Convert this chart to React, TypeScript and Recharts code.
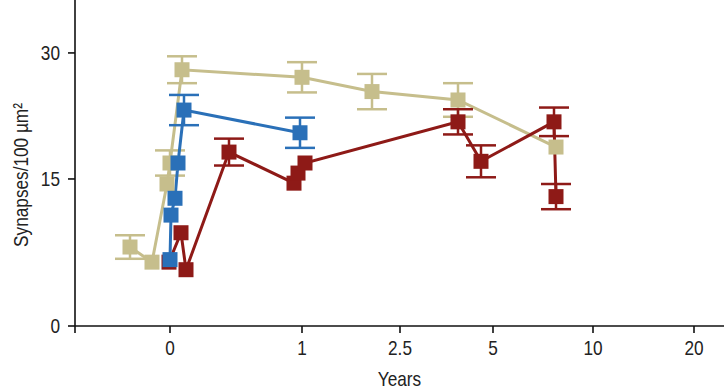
import React from 'react';
import { LineChart, Line, XAxis, YAxis, ErrorBar } from 'recharts';

// x values are positions on the (non-uniform) Years axis, in tick-units
const tickPositions = [-0.95, 0, 1.32, 2.3, 3.23, 4.23, 5.24];
const tickLabels = ['', '0', '1', '2.5', '5', '10', '20'];
const yTicks = [-2.5, 15, 30];
const yTickLabels = ['0', '15', '30'];

const tanX = [-0.4, -0.18, -0.03, 0.0, 0.12, 1.32, 2.02, 2.88, 3.86];
const tanY = [6.9, 5.1, 14.4, 16.9, 28.0, 27.1, 25.4, 24.4, 18.8];
const tanErr = [1.4, 0, 0, 1.5, 1.6, 1.8, 2.1, 2.0, 0];

const blueX = [0.0, 0.01, 0.05, 0.08, 0.14, 1.3];
const blueY = [5.4, 10.7, 12.7, 16.9, 23.2, 20.5];
const blueErr = [0, 0, 0, 0, 1.8, 1.8];

const redX = [-0.01, 0.11, 0.16, 0.59, 1.24, 1.28, 1.35, 2.88, 3.11, 3.84, 3.86];
const redY = [5.1, 8.6, 4.2, 18.2, 14.5, 15.7, 16.9, 21.8, 17.1, 21.8, 12.9];
const redErr = [0, 0, 0, 1.6, 0, 0, 0, 1.5, 1.9, 1.7, 1.5];

const build = (xs: number[], ys: number[], es: number[]) =>
  xs.map((x, i) => ({ x, y: ys[i], err: es[i] || null }));

const tanData = build(tanX, tanY, tanErr);
const blueData = build(blueX, blueY, blueErr);
const redData = build(redX, redY, redErr);

const TAN = '#c6be8c';
const BLUE = '#2a70b8';
const RED = '#8e1a17';
const FONT = '"Liberation Sans", Arial, sans-serif';
const FS = 21;
const SX = 0.82;
const TXT = '#222';

const squareDot = (color: string) => (p: any) => (
  <rect
    key={`dot-${color}-${p.index}`}
    x={p.cx - 7.5}
    y={p.cy - 7.5}
    width={15}
    height={15}
    fill={color}
  />
);

const lookup = (vals: number[], labels: string[], v: number) => {
  const i = vals.findIndex((t) => Math.abs(t - v) < 1e-6);
  return i >= 0 ? labels[i] : '';
};

const NarrowText = ({ x, y, anchor, baseline, rotate, children }: any) => (
  <g transform={`translate(${x} ${y}) rotate(${rotate || 0}) scale(${SX} 1)`}>
    <text
      x={0}
      y={0}
      textAnchor={anchor}
      dominantBaseline={baseline}
      fontSize={FS}
      fontFamily={FONT}
      fill={TXT}
    >
      {children}
    </text>
  </g>
);

const XTick = (p: any) => (
  <NarrowText x={p.x} y={p.y + 3} anchor="middle" baseline="hanging">
    {lookup(tickPositions, tickLabels, p.payload.value)}
  </NarrowText>
);

const YTick = (p: any) => (
  <NarrowText x={p.x - 3} y={p.y} anchor="end" baseline="central">
    {lookup(yTicks, yTickLabels, p.payload.value)}
  </NarrowText>
);

const XLabel = (p: any) => {
  const vb = p.viewBox || {};
  return (
    <NarrowText x={vb.x + vb.width / 2} y={vb.y + vb.height - 6} anchor="middle" baseline="auto">
      Years
    </NarrowText>
  );
};

const YLabel = (p: any) => {
  const vb = p.viewBox || {};
  return (
    <NarrowText x={21} y={vb.y + vb.height / 2 + 12} anchor="middle" baseline="central" rotate={-90}>
      Synapses/100 µm²
    </NarrowText>
  );
};

export default function App() {
  return (
    <div style={{ position: 'absolute', left: 0, top: 0, background: '#fff' }}>
      <LineChart width={724} height={392} margin={{ top: 0, right: 0, bottom: 0, left: 0 }}>
        <XAxis
          type="number"
          dataKey="x"
          domain={[-0.95, 5.54]}
          allowDataOverflow
          ticks={tickPositions}
          interval={0}
          height={66}
          tickSize={7}
          tickMargin={4}
          stroke="#111"
          strokeWidth={1.6}
          tick={<XTick />}
          label={<XLabel />}
        />
        <YAxis
          type="number"
          domain={[-2.5, 36.3]}
          allowDataOverflow
          ticks={yTicks}
          interval={0}
          width={75}
          tickSize={7}
          tickMargin={5}
          stroke="#111"
          strokeWidth={1.6}
          tick={<YTick />}
          label={<YLabel />}
        />
        <Line
          data={tanData}
          dataKey="y"
          type="linear"
          stroke={TAN}
          strokeWidth={3}
          dot={squareDot(TAN)}
          activeDot={false}
          isAnimationActive={false}
        >
          <ErrorBar dataKey="err" width={15} strokeWidth={2.5} stroke={TAN} direction="y" />
        </Line>
        <Line
          data={redData}
          dataKey="y"
          type="linear"
          stroke={RED}
          strokeWidth={3}
          dot={squareDot(RED)}
          activeDot={false}
          isAnimationActive={false}
        >
          <ErrorBar dataKey="err" width={15} strokeWidth={2.5} stroke={RED} direction="y" />
        </Line>
        <Line
          data={blueData}
          dataKey="y"
          type="linear"
          stroke={BLUE}
          strokeWidth={3}
          dot={squareDot(BLUE)}
          activeDot={false}
          isAnimationActive={false}
        >
          <ErrorBar dataKey="err" width={15} strokeWidth={2.5} stroke={BLUE} direction="y" />
        </Line>
      </LineChart>
    </div>
  );
}
